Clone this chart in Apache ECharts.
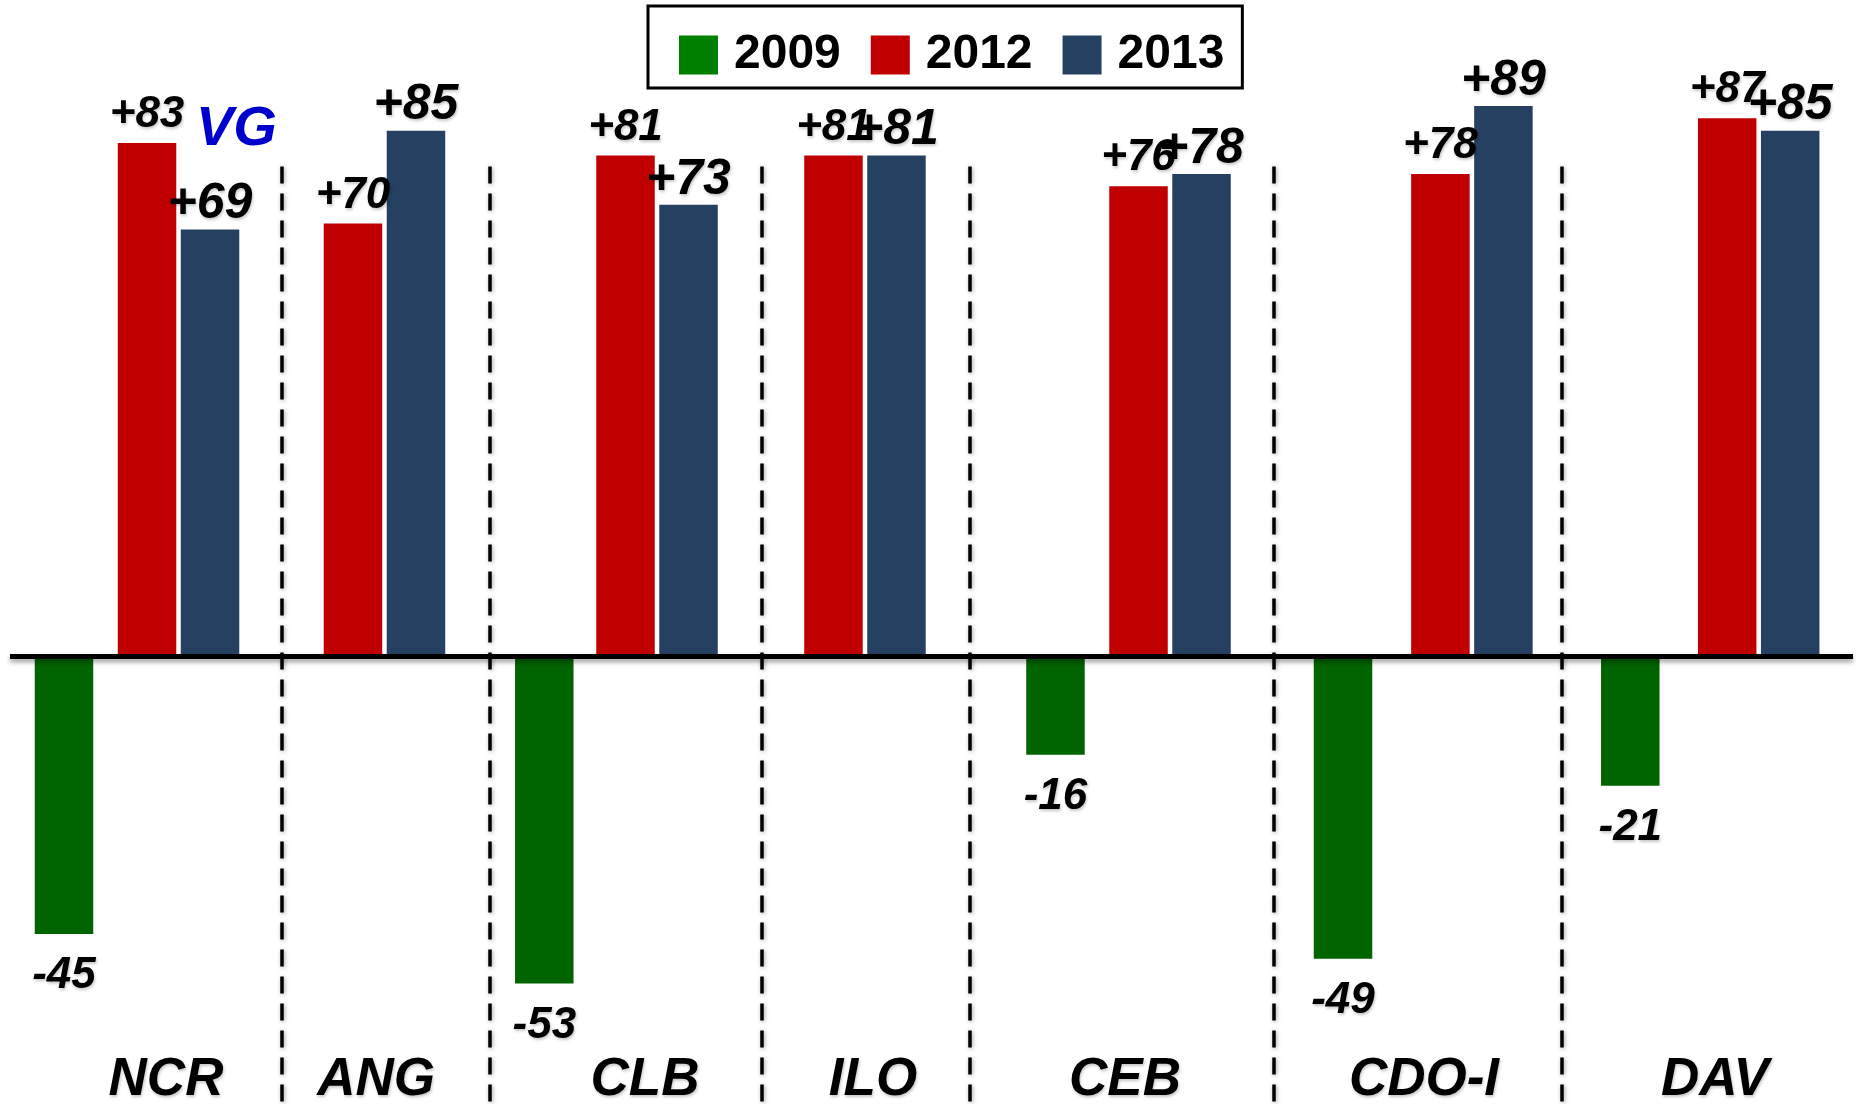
<!DOCTYPE html>
<html>
<head>
<meta charset="utf-8">
<script src="https://cdn.jsdelivr.net/npm/echarts@6/dist/echarts.min.js"></script>
<style>
  html, body { margin: 0; padding: 0; background: #ffffff; }
  #chart { width: 1856px; height: 1104px; }
</style>
</head>
<body>
<div id="chart"></div>
<script>
// ---- data ----
const regions = ['NCR', 'ANG', 'CLB', 'ILO', 'CEB', 'CDO-I', 'DAV'];
const years = ['2009', '2012', '2013'];
const v2009 = [-45, null, -53, null, -16, -49, -21];
const v2012 = [83, 70, 81, 81, 76, 78, 87];
const v2013 = [69, 85, 73, 81, 78, 89, 85];

// ---- layout (hidden x scale, in bar-pitch units) ----
const pairCentre = [2.675, 5.944, 10.270, 13.571, 18.413, 23.205, 27.757];
const offset2009 = [1.818, 0, 1.789, 0, 1.818, 2.046, 2.038];
const labelCentre = [2.476, 5.810, 10.079, 13.698, 17.698, 22.444, 27.063];
const separators = [4.317, 7.619, 11.937, 15.235, 20.063, 24.632];
const X_MAX = 29.254;
const Y_MIN = -72.5, Y_MAX = 100, SEP_TOP = 79.2;

const FONT = '"Liberation Sans", Arial, sans-serif';
const colors = { '2009': '#006400', '2012': '#C00000', '2013': '#264061' };
const textShadow = { textShadowColor: 'rgba(0,0,0,0.22)', textShadowBlur: 3, textShadowOffsetX: 1, textShadowOffsetY: 2 };

const d2009 = [], d2012 = [], d2013 = [];
regions.forEach((r, i) => {
  if (v2009[i] !== null) d2009.push([pairCentre[i] - offset2009[i], v2009[i]]);
  d2012.push([pairCentre[i] - 0.5, v2012[i]]);
  d2013.push([pairCentre[i] + 0.5, v2013[i]]);
});

function valueLabel(size, pos, dist, sign) {
  return Object.assign({
    show: true, position: pos, distance: dist,
    fontFamily: FONT, fontSize: size, lineHeight: size,
    fontWeight: 'bold', fontStyle: 'italic', color: '#000',
    formatter: p => (sign && p.value[1] > 0 ? '+' : '') + p.value[1]
  }, textShadow);
}

const chart = echarts.init(document.getElementById('chart'));
chart.setOption({
  animation: false,
  backgroundColor: '#ffffff',
  title: {
    text: 'VG', left: 196, top: 102, padding: 0,
    textStyle: { fontFamily: FONT, fontSize: 56, lineHeight: 56, fontWeight: 'bold', fontStyle: 'italic', color: '#0000CC' }
  },
  legend: {
    data: [
      { name: '2009', itemStyle: { color: '#008000' } },
      { name: '2012', itemStyle: { color: '#C00000' } },
      { name: '2013', itemStyle: { color: '#264061' } }
    ],
    icon: 'rect', itemWidth: 39, itemHeight: 39, itemGap: 30,
    left: 648, top: 6, padding: [25, 18, 9, 31],
    borderColor: '#000', borderWidth: 3,
    selectedMode: false,
    textStyle: { fontFamily: FONT, fontSize: 48, fontWeight: 'bold', color: '#000', padding: [0, 0, 0, 11] }
  },
  grid: { left: 10, right: 3, top: 38, bottom: 0, containLabel: false, outerBoundsMode: 'none' },
  xAxis: {
    type: 'value', min: 0, max: X_MAX,
    axisLine: { show: false }, axisTick: { show: false }, splitLine: { show: false },
    axisLabel: {
      show: true, inside: true, margin: -3,
      customValues: labelCentre,
      formatter: v => { const i = labelCentre.findIndex(c => Math.abs(c - v) < 1e-6); return i >= 0 ? regions[i] : ''; },
      fontFamily: FONT, fontSize: 53, lineHeight: 53, fontWeight: 'bold', fontStyle: 'italic', color: '#000',
      textShadowColor: 'rgba(0,0,0,0.22)', textShadowBlur: 3, textShadowOffsetX: 1, textShadowOffsetY: 2
    }
  },
  yAxis: { type: 'value', min: Y_MIN, max: Y_MAX, show: false, splitLine: { show: false } },
  series: [
    {
      name: '2009', type: 'bar', data: d2009, barWidth: 58.5, barGap: '-100%', clip: false,
      itemStyle: { color: colors['2009'] },
      label: valueLabel(44, 'bottom', 20, true),
      markLine: {
        silent: true, symbol: ['none', 'none'], label: { show: false },
        lineStyle: { color: '#000', width: 3.5, type: [17, 10], shadowColor: 'rgba(0,0,0,0.35)', shadowBlur: 4, shadowOffsetX: 1, shadowOffsetY: 1 },
        emphasis: { disabled: true },
        data: separators.map(s => [{ coord: [s, SEP_TOP] }, { coord: [s, Y_MIN] }])
      }
    },
    {
      name: '2012', type: 'bar', data: d2012, barWidth: 58.5, barGap: '-100%', clip: false,
      itemStyle: { color: colors['2012'] },
      label: valueLabel(44, 'top', 6, true),
      markLine: {
        silent: true, symbol: ['none', 'none'], label: { show: false },
        lineStyle: { color: '#000', width: 5, type: 'solid', shadowColor: 'rgba(0,0,0,0.4)', shadowBlur: 5, shadowOffsetY: 3 },
        emphasis: { disabled: true },
        data: [{ yAxis: 0 }]
      }
    },
    {
      name: '2013', type: 'bar', data: d2013, barWidth: 58.5, barGap: '-100%', clip: false,
      itemStyle: { color: colors['2013'] },
      label: valueLabel(50, 'top', 0, true)
    }
  ]
});
</script>
</body>
</html>
